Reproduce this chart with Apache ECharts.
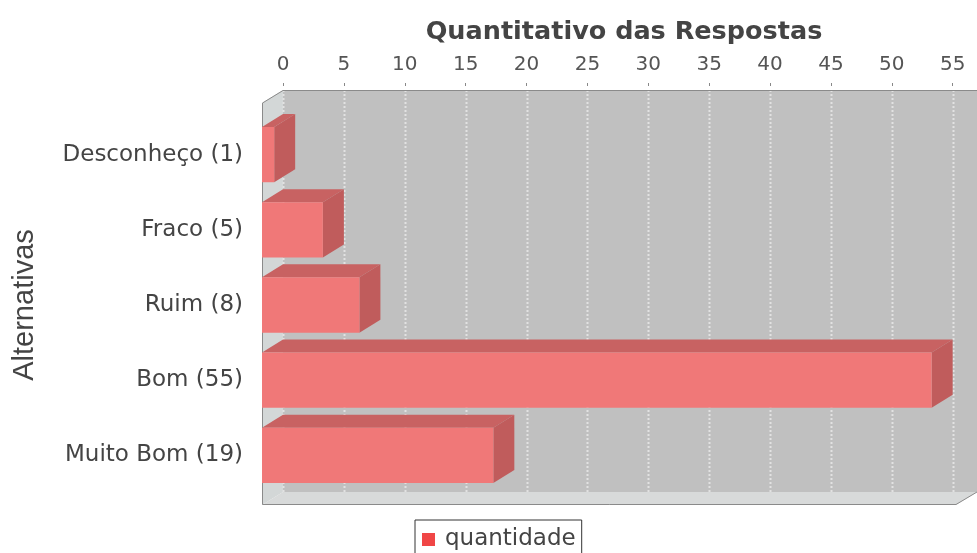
<!DOCTYPE html>
<html>
<head>
<meta charset="utf-8">
<script src="https://cdn.jsdelivr.net/npm/echarts@6/dist/echarts.min.js"></script>
<style>
  html, body { margin: 0; padding: 0; background: #ffffff; }
  #chart { width: 977px; height: 553px; }
</style>
</head>
<body>
<div id="chart"></div>
<script>
// Answer categories (top to bottom) and their counts
const categories = ['Desconheço (1)', 'Fraco (5)', 'Ruim (8)', 'Bom (55)', 'Muito Bom (19)'];
const quantidade = [1, 5, 8, 55, 19];
const xTicks = [0, 5, 10, 15, 20, 25, 30, 35, 40, 45, 50, 55];
const seriesName = 'quantidade';
const axisTitle = 'Quantitativo das Respostas';
const categoryTitle = 'Alternativas';

// 3D depth offset of the plot box and bars (pixels)
const DX = 21, DY = 13;
const FONT = 'DejaVu Sans';

const chart = echarts.init(document.getElementById('chart'), null, { renderer: 'canvas' });

// Back wall, left wall, floor, grid lines and outline of the 3D plot box
function renderWalls(params, api) {
  const cs = params.coordSys;
  const top = cs.y - 27, bottom = cs.y + cs.height - 1;
  const left = cs.x, right = cs.x + cs.width;
  const children = [];
  children.push({ type: 'rect', shape: { x: left, y: top, width: right - left, height: bottom - top },
    style: { fill: '#c0c0c0' } });
  children.push({ type: 'polygon', shape: { points: [[left - DX, top + DY], [left, top], [left, bottom], [left - DX, bottom + DY]] },
    style: { fill: '#d3d7d7' } });
  children.push({ type: 'polygon', shape: { points: [[left - DX, bottom + DY], [left, bottom], [right, bottom], [right - DX, bottom + DY]] },
    style: { fill: '#d8dada' } });
  xTicks.forEach(function (t) {
    const x = Math.round(api.coord([t, 0])[0]) + 0.5;
    children.push({ type: 'line', shape: { x1: x, y1: top, x2: x, y2: bottom },
      style: { stroke: '#e2e2e2', lineWidth: 2, lineDash: [2, 2] } });
  });
  children.push({ type: 'polyline', shape: { points: [[right, top + 0.5], [left, top + 0.5], [left - DX + 0.5, top + DY], [left - DX + 0.5, bottom + DY - 0.5], [right - DX, bottom + DY - 0.5], [right, bottom]] },
    style: { stroke: '#8a8a8a', lineWidth: 1, fill: null } });
  return { type: 'group', children: children };
}

// One 3D bar: front face, top face and right side
function renderBar(params, api) {
  const v = api.value(0), c = api.value(1);
  const p0 = api.coord([0, c]);
  const p1 = api.coord([v, c]);
  const bh = api.size([0, 1])[1] * 0.735;
  const x0 = p0[0] - DX, x1 = p1[0] - DX;
  const y0 = p0[1] - bh / 2, y1 = p0[1] + bh / 2;
  return {
    type: 'group',
    children: [
      { type: 'polygon', shape: { points: [[x0, y0], [x1, y0], [x1 + DX, y0 - DY], [x0 + DX, y0 - DY]] },
        style: { fill: '#c86262' } },
      { type: 'polygon', shape: { points: [[x1, y0], [x1 + DX, y0 - DY], [x1 + DX, y1 - DY], [x1, y1]] },
        style: { fill: '#c05c5c' } },
      { type: 'rect', shape: { x: x0, y: y0, width: x1 - x0, height: y1 - y0 },
        style: { fill: '#f07878' } }
    ]
  };
}

chart.setOption({
  animation: false,
  backgroundColor: '#ffffff',
  title: {
    text: axisTitle,
    left: 619,
    top: 14,
    textAlign: 'center',
    textStyle: { fontFamily: FONT, fontSize: 25.5, fontWeight: 'bold', color: '#444444' }
  },
  legend: {
    data: [seriesName],
    left: 415,
    top: 520,
    icon: 'rect',
    itemWidth: 13,
    itemHeight: 13,
    itemGap: 0,
    padding: [8, 6, 8, 7],
    borderColor: '#333333',
    borderWidth: 1,
    backgroundColor: '#ffffff',
    textStyle: { fontFamily: FONT, fontSize: 23, color: '#444444', padding: [0, 0, 0, 5] }
  },
  grid: { left: 283, right: 0, top: 117, height: 376, containLabel: false, outerBoundsMode: 'none' },
  xAxis: {
    type: 'value',
    position: 'top',
    offset: 31,
    min: 0,
    max: 57,
    interval: 5,
    axisLine: { show: false },
    axisTick: { show: true, length: 3, lineStyle: { color: '#888888' } },
    splitLine: { show: false },
    axisLabel: {
      margin: 11,
      fontFamily: FONT,
      fontSize: 20,
      color: '#555555',
      formatter: function (v) { return v % 5 === 0 ? String(v) : ''; }
    }
  },
  yAxis: {
    type: 'category',
    data: categories,
    inverse: true,
    axisLine: { show: false },
    axisTick: { show: false },
    axisLabel: { margin: 40, fontFamily: FONT, fontSize: 23, color: '#444444' },
    name: categoryTitle,
    nameLocation: 'middle',
    nameRotate: 90,
    nameGap: 234,
    nameTextStyle: { fontFamily: 'Liberation Sans', fontSize: 29, color: '#444444', padding: [0, 0, 10, 0] }
  },
  series: [
    {
      type: 'custom',
      name: '_walls',
      silent: true,
      z: 0,
      data: [[0, 0]],
      encode: { x: 0, y: 1 },
      renderItem: renderWalls
    },
    {
      type: 'custom',
      name: seriesName,
      z: 2,
      itemStyle: { color: '#f04646' },
      data: quantidade.map(function (v, i) { return [v, i]; }),
      encode: { x: 0, y: 1 },
      renderItem: renderBar
    }
  ]
});
</script>
</body>
</html>
